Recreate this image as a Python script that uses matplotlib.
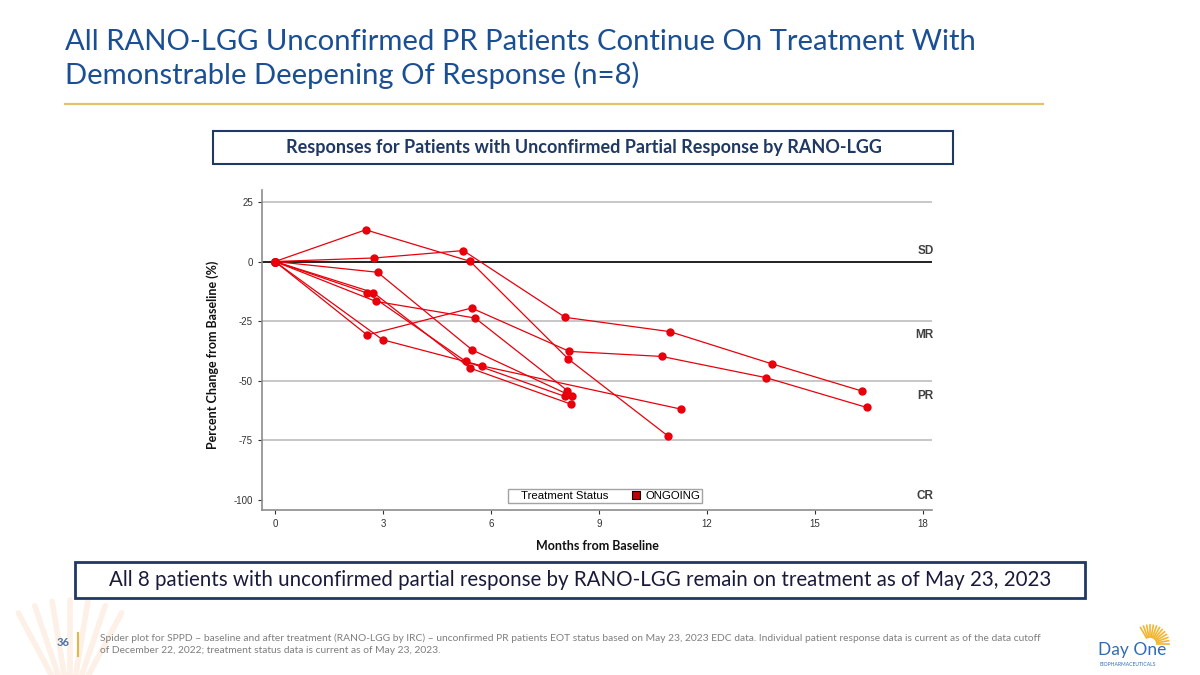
import numpy as np
import matplotlib.pyplot as plt
from matplotlib.lines import Line2D
from matplotlib.patches import Rectangle

plt.rcParams['axes.unicode_minus'] = False

W, H = 1200, 675

# months from baseline / percent change in SPPD, one list per patient
months = [
    [0, 2.52, 5.42, 8.15, 10.91],
    [0, 2.76, 5.23, 8.06, 10.97, 13.80, 16.30],
    [0, 2.85, 5.48, 8.26],
    [0, 2.80, 5.56, 8.12],
    [0, 2.56, 5.46, 8.18, 10.74, 13.64, 16.44],
    [0, 2.99, 5.76, 11.28],
    [0, 2.56, 5.30, 8.06],
    [0, 2.73, 5.42, 8.22],
]
change = [
    [0, 13.3, 0.1, -40.9, -73.1],
    [0, 1.5, 4.6, -23.4, -29.4, -42.9, -54.3],
    [0, -4.5, -37.1, -56.6],
    [0, -16.7, -23.7, -54.1],
    [0, -30.8, -19.5, -37.7, -39.8, -48.7, -61.2],
    [0, -32.8, -43.8, -61.9],
    [0, -13.2, -41.9, -56.6],
    [0, -13.0, -44.7, -59.8],
]

x_ticks = [0, 3, 6, 9, 12, 15, 18]
y_ticks = [25, 0, -25, -50, -75, -100]
grid_y = [25, -25, -50, -75]
zone_labels = ['SD', 'MR', 'PR', 'CR']
zone_y = [4.6, -30.6, -56.5, -98.4]

title = ('All RANO-LGG Unconfirmed PR Patients Continue On Treatment With\n'
         'Demonstrable Deepening Of Response (n=8)')
box_title = 'Responses for Patients with Unconfirmed Partial Response by RANO-LGG'
summary = ('All 8 patients with unconfirmed partial response by RANO-LGG remain '
           'on treatment as of May 23, 2023')
footnote = ('Spider plot for SPPD \u2013 baseline and after treatment (RANO-LGG by IRC) '
            '\u2013 unconfirmed PR patients EOT status based on May 23, 2023 EDC data. '
            'Individual patient response data is current as of the data cutoff\n'
            'of December 22, 2022; treatment status data is current as of May 23, 2023.')

navy = '#1B4F93'
red = '#E8000B'


def fx(px):
    return px / W


def fy(py):
    return 1 - py / H


fig = plt.figure(figsize=(12, 6.75), dpi=100)
fig.patch.set_facecolor('white')

# faint rays bottom-left (drawn first, behind everything)
for ang in np.linspace(62, 118, 7):
    r = np.radians(ang)
    fig.add_artist(Line2D([fx(70), fx(70 + 110 * np.cos(r))],
                          [fy(710), fy(710 - 110 * np.sin(r))],
                          color='#FDF0E6', lw=4, solid_capstyle='round', zorder=0))

# title and rule
fig.text(fx(65), fy(59), title, fontsize=21.1, color=navy, family='Lato',
         va='center', ha='left', linespacing=1.3)
fig.add_artist(Line2D([fx(65), fx(1043)], [fy(104), fy(104)], color='#E2C26A', lw=1.6))

# chart heading box
fig.add_artist(Rectangle((fx(213), fy(164)), fx(953) - fx(213), fy(131) - fy(164),
                         transform=fig.transFigure, fill=False, ec='#1F3864', lw=1.5))
fig.text(fx(584), fy(148), box_title, fontsize=13, weight='bold', color='#1F3864',
         family='Lato', ha='center', va='center')

# spider plot
ax = fig.add_axes([fx(262), fy(510), fx(932) - fx(262), fy(190) - fy(510)])
for g in grid_y:
    ax.axhline(g, color='#BDBDBD', lw=1.2, zorder=1)
ax.axhline(0, color='#202020', lw=1.4, zorder=1)

for m, c in zip(months, change):
    ax.plot(m, c, color=red, lw=0.9, marker='o', ms=5, mec=red, mfc=red, zorder=3)

ax.set_xlim(-0.36, 18.25)
ax.set_ylim(-104.2, 30)
ax.set_xticks(x_ticks)
ax.set_yticks(y_ticks)
ax.tick_params(labelsize=7, colors='#333333', length=3, width=0.8)
for lbl in ax.get_xticklabels() + ax.get_yticklabels():
    lbl.set_family('Liberation Sans')
for s in ['top', 'right']:
    ax.spines[s].set_visible(False)
for s in ['left', 'bottom']:
    ax.spines[s].set_color('#8C8C8C')
    ax.spines[s].set_linewidth(1.2)

for lab, yv in zip(zone_labels, zone_y):
    ax.text(18.3, yv, lab, fontsize=8.5, weight='bold', color='#404040',
            family='Liberation Sans', ha='right', va='center', clip_on=False)

ax.set_xlabel('Months from Baseline', fontsize=9, weight='bold', family='Lato',
              color='#111111', labelpad=8)
fig.text(fx(213), fy(355), 'Percent Change from Baseline (%)', fontsize=9,
         weight='bold', family='Lato', color='#111111', rotation=90,
         ha='center', va='center')

handles = [Line2D([], [], linestyle='none'),
           Line2D([], [], linestyle='none', marker='s', ms=5.5, mfc='#C00000', mec='black', mew=0.8)]
leg = ax.legend(handles, ['Treatment Status', 'ONGOING'], ncol=2, loc='center',
                bbox_to_anchor=(0.512, 0.044), frameon=True, fancybox=False,
                handlelength=0.3, handletextpad=0.7, columnspacing=2.2,
                borderpad=0.2, prop={'family': 'Liberation Sans', 'size': 8.2})
leg.get_frame().set_edgecolor('#8C8C8C')
leg.get_frame().set_linewidth(1.0)

# summary box
fig.add_artist(Rectangle((fx(75), fy(598)), fx(1085) - fx(75), fy(562) - fy(598),
                         transform=fig.transFigure, fill=False, ec='#1F3864', lw=2))
fig.text(fx(580), fy(580), summary, fontsize=14.8, family='Lato', color='#1A1A3A',
         ha='center', va='center')

# footer
fig.text(fx(63), fy(643), '36', fontsize=8, weight='bold', color='#4A6FA5',
         family='Lato', ha='center', va='center')
fig.add_artist(Line2D([fx(78), fx(78)], [fy(633), fy(656)], color='#E2B84A', lw=1.5))
fig.text(fx(100), fy(644), footnote, fontsize=7.4, color='#7F7F7F', family='Lato',
         ha='left', va='center', linespacing=1.45)

# logo
fig.text(fx(1098), fy(650), 'Day One', fontsize=12.5, color='#2F6CB5', family='Lato',
         ha='left', va='center')
fig.text(fx(1099), fy(664), 'BIOPHARMACEUTICALS', fontsize=3.6, color='#2F6CB5',
         family='Lato', ha='left', va='center')
cx, cy = 1150, 644
for ang in np.linspace(0, 120, 13):
    r = np.radians(ang)
    fig.add_artist(Line2D([fx(cx + 7 * np.cos(r)), fx(cx + 19 * np.cos(r))],
                          [fy(cy - 7 * np.sin(r)), fy(cy - 19 * np.sin(r))],
                          color='#F2B630', lw=1.2))

fig.savefig('out.png', dpi=100, facecolor='white')
